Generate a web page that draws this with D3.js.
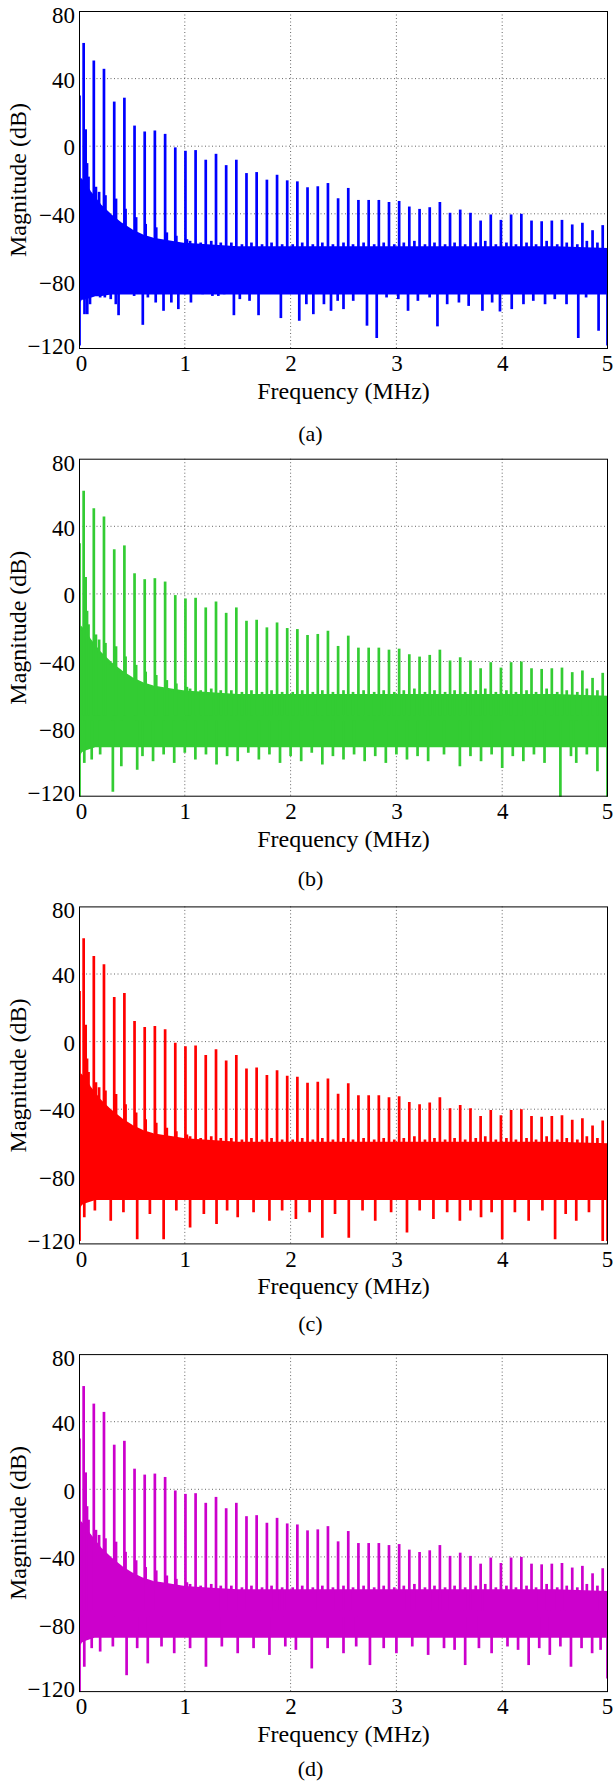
<!DOCTYPE html>
<html><head><meta charset="utf-8">
<script src="https://cdn.jsdelivr.net/npm/d3@7"></script>
<style>
body{margin:0;background:#fff}
svg text{font-family:"Liberation Serif","Times New Roman",Times,serif;fill:#000}
</style>
</head><body>
<svg id="chart" width="613" height="1782"></svg>
<script>
// ---------------- data ----------------
const xTicks = [0,1,2,3,4,5];
const yTicks = [-120,-80,-40,0,40,80];
const gridX = [1,2,3,4];
const gridY = [-80,-40,0,40];
const panelNames = ["(a)","(b)","(c)","(d)"];
const seriesColors = ["#0000ff","#33cc33","#ff0000","#cc00cc"];
const xLabel = "Frequency (MHz)";
const yLabel = "Magnitude (dB)";

// harmonic frequencies (MHz)
const harmonicFreq = [0.044,0.140,0.236,0.333,0.429,0.525,0.621,0.717,0.814,0.910,
  1.006,1.102,1.198,1.295,1.391,1.487,1.583,1.679,1.776,1.872,
  1.968,2.064,2.160,2.257,2.353,2.449,2.545,2.641,2.738,2.834,
  2.930,3.026,3.122,3.219,3.315,3.411,3.507,3.603,3.700,3.796,
  3.892,3.988,4.084,4.181,4.277,4.373,4.469,4.565,4.662,4.758,4.854,4.950];
// harmonic peak magnitudes (dB)
const harmonicPeak = [61.1,50.7,45.8,26.4,28.7,12.2,8.7,9.3,7.3,-0.7,
  -2.7,-2.3,-8.0,-4.5,-11.2,-8.0,-15.9,-15.3,-19.8,-16.9,
  -20.2,-20.8,-24.3,-23.7,-21.8,-30.8,-24.7,-31.8,-31.8,-31.8,
  -33.0,-32.4,-35.7,-37.1,-36.1,-33.0,-39.4,-37.5,-39.4,-44.0,
  -40.4,-43.6,-40.4,-40.0,-44.0,-44.4,-44.0,-43.6,-46.3,-45.3,-49.7,-46.7];

// noise floor envelope (solid part)
const floorFreq = [0,0.02,0.05,0.1,0.15,0.2,0.3,0.4,0.5,0.6,0.7,0.8,0.9,1.0,1.25,1.5,2.0,2.5,3.0,3.5,4.0,4.5,5.0];
const floorTopA = [-22,-20,-22,-27,-31,-35,-41,-46,-50,-53,-55,-56,-57,-58,-59,-60,-60,-60,-60,-60,-60,-60,-61];
const floorBotA = [-92,-90,-90,-89,-88,-88,-87,-87,-87,-87,-87,-87,-87,-87,-87,-87,-87,-87,-87,-87,-87,-87,-87];
const floorTopB = [-22,-20,-22,-27,-31,-35,-41,-46,-50,-53,-55,-56,-57,-58,-59,-60,-60,-60,-60,-60,-60,-60,-61];
const floorBotB = [-95,-93,-92,-91,-90,-90,-90,-90,-90,-90,-90,-90,-90,-90,-90,-90,-90,-90,-90,-90,-90,-90,-90];
const floorTopC = [-22,-20,-22,-27,-31,-35,-41,-46,-50,-53,-55,-56,-57,-58,-59,-60,-60,-60,-60,-60,-60,-60,-61];
const floorBotC = [-98,-96,-95,-94,-93,-93,-93,-93,-93,-93,-93,-93,-93,-93,-93,-93,-93,-93,-93,-93,-93,-93,-93];
const floorTopD = [-22,-20,-22,-27,-31,-35,-41,-46,-50,-53,-55,-56,-57,-58,-59,-60,-60,-60,-60,-60,-60,-60,-61];
const floorBotD = [-92,-90,-89,-88,-87,-87,-87,-87,-87,-87,-87,-87,-87,-87,-87,-87,-87,-87,-87,-87,-87,-87,-87];

// upward skirt strokes (freq, dB)
const spursLow = [[0.005,30],[0.063,10],[0.076,-10],[0.09,-18],[0.16,-24],[0.19,-27],[0.25,-29],[0.35,-31],[0.44,-37],[0.54,-42],[0.63,-46],[0.73,-48],[0.83,-51],[0.92,-53],[1.02,-55]];
const spursHigh = [[1.05,-56],[1.15,-57],[1.25,-56],[1.34,-57],[1.44,-57],[1.54,-58],[1.63,-57],[1.73,-58],[1.82,-57],[1.92,-58],[2.02,-58],[2.11,-57],[2.21,-58],[2.30,-57],[2.40,-58],[2.50,-57],[2.59,-58],[2.69,-57],[2.79,-58],[2.88,-57],[2.98,-58],[3.07,-57],[3.17,-56],[3.27,-58],[3.36,-57],[3.46,-58],[3.55,-57],[3.65,-58],[3.75,-57],[3.84,-56],[3.94,-58],[4.04,-57],[4.13,-58],[4.23,-57],[4.32,-58],[4.42,-56],[4.52,-58],[4.61,-57],[4.71,-58],[4.80,-56],[4.90,-57]];

// downward strokes (freq, dB)
const dipsA = [[0.005,-118],[0.022,-87.6],[0.052,-99.4],[0.078,-99.4],[0.104,-93.5],[0.133,-88.6],[0.2,-89.5],[0.244,-89.5],[0.3,-90.5],[0.348,-93.5],[0.374,-100],[0.466,-86.6],[0.521,-88.6],[0.603,-105.7],[0.651,-89.5],[0.725,-92.5],[0.799,-97.4],[0.873,-92.5],[0.939,-96.4],[1.002,-87.6],[1.058,-92.5],[1.169,-87.6],[1.261,-88.6],[1.317,-88.6],[1.372,-87.6],[1.464,-100],[1.52,-90.5],[1.612,-91.5],[1.697,-100],[1.797,-86.6],[1.908,-101.7],[2.001,-86.6],[2.082,-103.3],[2.149,-93.5],[2.215,-99.4],[2.315,-93.5],[2.382,-97.4],[2.445,-91.5],[2.5,-96.4],[2.592,-91.5],[2.666,-86.6],[2.722,-106.2],[2.814,-113.5],[2.907,-89.5],[3.018,-90.5],[3.11,-97.4],[3.203,-91.5],[3.314,-89.5],[3.388,-106.6],[3.48,-93.5],[3.591,-92.5],[3.683,-94.5],[3.813,-97.4],[3.905,-92.5],[3.979,-97.8],[4.09,-96.4],[4.201,-93.5],[4.294,-91.5],[4.405,-93.5],[4.497,-90.5],[4.608,-93.5],[4.719,-113.5],[4.793,-89.5],[4.911,-109.2],[4.995,-118]];
const dipsB = [[0.005,-121],[0.05,-100],[0.12,-98],[0.2,-95],[0.32,-117],[0.4,-102],[0.55,-104],[0.6,-96],[0.7,-99],[0.8,-95],[0.9,-100],[1.0,-94],[1.1,-98],[1.2,-95],[1.3,-101],[1.4,-96],[1.5,-99],[1.6,-94],[1.7,-98],[1.8,-95],[1.9,-100],[2.0,-96],[2.1,-99],[2.2,-94],[2.3,-101],[2.4,-96],[2.5,-98],[2.6,-95],[2.7,-99],[2.8,-96],[2.9,-100],[3.0,-95],[3.1,-98],[3.2,-96],[3.3,-99],[3.45,-95],[3.6,-102],[3.7,-96],[3.8,-99],[3.9,-95],[4.0,-103],[4.1,-96],[4.2,-99],[4.3,-95],[4.4,-100],[4.55,-122],[4.65,-96],[4.7,-100],[4.8,-95],[4.9,-105],[4.995,-121]];
const dipsC = [[0.005,-118],[0.05,-104],[0.15,-100],[0.3,-106],[0.42,-101],[0.55,-117],[0.67,-102],[0.8,-117],[0.92,-100],[1.05,-110],[1.18,-102],[1.3,-108],[1.4,-100],[1.5,-104],[1.65,-101],[1.8,-106],[1.92,-100],[2.05,-105],[2.18,-101],[2.3,-116],[2.42,-102],[2.55,-116],[2.68,-100],[2.8,-106],[2.95,-101],[3.1,-113],[3.22,-100],[3.35,-105],[3.48,-101],[3.6,-106],[3.7,-100],[3.8,-104],[3.9,-101],[4.0,-117],[4.12,-101],[4.25,-106],[4.38,-100],[4.5,-117],[4.6,-102],[4.7,-106],[4.82,-101],[4.95,-118],[4.995,-118]];
const dipsD = [[0.005,-120],[0.05,-105],[0.12,-94],[0.2,-96],[0.32,-93],[0.45,-110],[0.55,-94],[0.65,-103],[0.78,-93],[0.9,-97],[1.05,-94],[1.2,-105],[1.35,-93],[1.5,-97],[1.65,-94],[1.8,-98],[1.95,-93],[2.05,-95],[2.2,-106],[2.35,-94],[2.5,-97],[2.62,-93],[2.75,-104],[2.88,-94],[3.0,-97],[3.15,-93],[3.3,-98],[3.45,-94],[3.55,-95],[3.65,-104],[3.78,-94],[3.9,-97],[4.05,-93],[4.15,-95],[4.25,-104],[4.35,-94],[4.45,-98],[4.55,-93],[4.65,-105],[4.75,-94],[4.85,-97],[4.93,-95],[4.995,-112]];

const floorTops = [floorTopA,floorTopB,floorTopC,floorTopD];
const floorBots = [floorBotA,floorBotB,floorBotC,floorBotD];
const dipsAll = [dipsA,dipsB,dipsC,dipsD];

// ---------------- layout ----------------
const svg = d3.select("#chart");
const left = 79, right = 608, firstTop = 11, step = 447.7, plotH = 338;
const captionBase = 441, captionStep = 445;
const lw = 2.7;

panelNames.forEach((name, i) => {
  const top = firstTop + i*step, bottom = top + plotH;
  const color = seriesColors[i];
  const x = d3.scaleLinear().domain([0,5]).range([left,right]);
  const y = d3.scaleLinear().domain([-120,80]).range([bottom,top]);
  const g = svg.append("g");

  const clipId = "clip" + i;
  svg.append("clipPath").attr("id", clipId).append("rect")
    .attr("x", left).attr("y", top).attr("width", right-left).attr("height", plotH);

  // grid
  g.append("g").selectAll("line").data(gridX).join("line")
    .attr("x1", d => x(d)).attr("x2", d => x(d)).attr("y1", top).attr("y2", bottom)
    .attr("stroke", "#666").attr("stroke-width", 1).attr("stroke-dasharray", "1,2.5");
  g.append("g").selectAll("line").data(gridY).join("line")
    .attr("y1", d => y(d)).attr("y2", d => y(d)).attr("x1", left).attr("x2", right)
    .attr("stroke", "#666").attr("stroke-width", 1).attr("stroke-dasharray", "1,2.5");

  const dg = g.append("g").attr("clip-path", `url(#${clipId})`);
  const band = floorFreq.map((f, j) => ({f, t: floorTops[i][j], b: floorBots[i][j]}));
  dg.append("path").datum(band)
    .attr("d", d3.area().x(d => x(d.f)).y0(d => y(d.b)).y1(d => y(d.t)))
    .attr("fill", color).attr("stroke", color).attr("stroke-width", lw);

  const strokes = [];
  harmonicFreq.forEach((f, k) => strokes.push([f, -72, harmonicPeak[k]]));
  spursLow.forEach(d => strokes.push([d[0], -72, d[1]]));
  spursHigh.forEach(d => strokes.push([d[0], -72, d[1]]));
  dipsAll[i].forEach(d => strokes.push([d[0], -75, d[1]]));
  dg.append("g").selectAll("line").data(strokes).join("line")
    .attr("x1", d => x(d[0])).attr("x2", d => x(d[0]))
    .attr("y1", d => y(d[1])).attr("y2", d => y(d[2]))
    .attr("stroke", color).attr("stroke-width", lw);

  // box
  g.append("rect").attr("x", left + 0.5).attr("y", top + 0.5)
    .attr("width", right - left - 1).attr("height", plotH - 1)
    .attr("fill", "none").attr("stroke", "#000").attr("stroke-width", 1);

  // axes
  const ax = g.append("g").attr("transform", `translate(0,${bottom})`)
    .call(d3.axisBottom(x).tickValues(xTicks).tickFormat(d3.format("d")).tickSize(0).tickPadding(6));
  const ay = g.append("g").attr("transform", `translate(${left},0)`)
    .call(d3.axisLeft(y).tickValues(yTicks).tickFormat(d => d < 0 ? "\u2212" + Math.abs(d) : String(d)).tickSize(0).tickPadding(4));
  [ax, ay].forEach(a => {
    a.select(".domain").remove();
    a.selectAll("text").attr("font-size", 23).attr("font-family", "Liberation Serif, Times New Roman, serif").attr("fill", "#000");
  });
  ay.selectAll("text").attr("dy", d => d === 80 ? "0.5em" : d === -120 ? "0.18em" : "0.38em");
  ax.selectAll("text").attr("dx", d => d === 0 ? "2" : d === 5 ? "-1" : "0");

  g.append("text").attr("x", (left + right)/2).attr("y", bottom + 50)
    .attr("text-anchor", "middle").attr("font-size", 24).text(xLabel);
  g.append("text").attr("transform", `translate(26,${(top+bottom)/2}) rotate(-90)`)
    .attr("text-anchor", "middle").attr("font-size", 24).text(yLabel);
  g.append("text").attr("x", 310.5).attr("y", captionBase + i*captionStep)
    .attr("text-anchor", "middle").attr("font-size", 22).text(name);
});
</script>
</body></html>
